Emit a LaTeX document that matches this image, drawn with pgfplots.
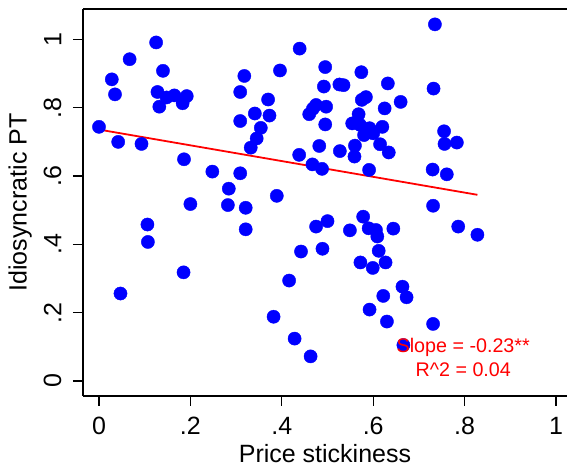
\documentclass[border=0pt]{standalone}
\usepackage{pgfplots}
\pgfplotsset{compat=1.18}
\usepackage{fontspec}
\setmainfont{Liberation Sans}
\definecolor{sblue}{RGB}{0,0,255}
\definecolor{sred}{RGB}{255,0,0}
\begin{document}
\begin{tikzpicture}
\begin{axis}[
  name=ax,
  scale only axis,
  width=484pt, height=387pt,
  xmin=-0.035, xmax=1.024,
  ymin=-0.044, ymax=1.089,
  axis x line=box, axis y line=left,
  axis line style={line width=1.6pt, -},
  xtick={0,0.2,0.4,0.6,0.8,1},
  xticklabels={0,.2,.4,.6,.8,1},
  ytick={0,0.2,0.4,0.6,0.8,1},
  yticklabels={0,.2,.4,.6,.8,1},
  xtick pos=bottom, ytick pos=left,
  tick align=outside,
  major tick length=10pt,
  every tick/.style={black, line width=1.2pt},
  tick label style={font=\fontsize{25}{30}\selectfont},
  xticklabel style={yshift=-8pt},
  yticklabel style={rotate=90, anchor=south},
  yticklabel shift=8pt,
  label style={font=\fontsize{25}{30}\selectfont},
  xlabel={Price stickiness},
  ylabel={Idiosyncratic PT},
  xlabel style={yshift=-2pt},
  ylabel style={yshift=5pt},
  clip=false,
]
\addplot[only marks, mark=*, mark size=6.6pt, color=sblue, mark options={draw=sblue, fill=sblue}] coordinates {
(0.000,0.744) (0.028,0.883) (0.035,0.839) (0.042,0.700) (0.047,0.256)
(0.067,0.942) (0.093,0.694) (0.106,0.458) (0.107,0.407) (0.125,0.991)
(0.128,0.846) (0.132,0.803) (0.140,0.908) (0.148,0.830) (0.165,0.836)
(0.183,0.813) (0.192,0.834) (0.186,0.649) (0.185,0.318) (0.200,0.518)
(0.248,0.613) (0.282,0.515) (0.284,0.563) (0.309,0.846) (0.309,0.761)
(0.309,0.608) (0.318,0.893) (0.321,0.507) (0.321,0.444) (0.332,0.683)
(0.341,0.783) (0.345,0.710) (0.354,0.741) (0.370,0.824) (0.373,0.777)
(0.382,0.188) (0.389,0.542) (0.396,0.909) (0.416,0.294) (0.428,0.124)
(0.438,0.662) (0.439,0.973) (0.442,0.379) (0.460,0.781) (0.463,0.072)
(0.467,0.634) (0.468,0.797) (0.475,0.808) (0.475,0.452) (0.482,0.688)
(0.488,0.621) (0.489,0.387) (0.492,0.862) (0.495,0.919) (0.495,0.751)
(0.497,0.803) (0.500,0.468) (0.526,0.868) (0.535,0.866) (0.527,0.673)
(0.549,0.441) (0.554,0.754) (0.559,0.657) (0.560,0.689) (0.568,0.781)
(0.571,0.750) (0.572,0.347) (0.574,0.904) (0.575,0.823) (0.584,0.831)
(0.578,0.481) (0.580,0.720) (0.590,0.447) (0.591,0.618) (0.592,0.740)
(0.592,0.209) (0.599,0.331) (0.600,0.725) (0.606,0.442) (0.609,0.423)
(0.612,0.381) (0.615,0.693) (0.620,0.744) (0.622,0.249) (0.625,0.798)
(0.627,0.347) (0.630,0.174) (0.632,0.871) (0.634,0.669) (0.644,0.446)
(0.660,0.817) (0.664,0.276) (0.666,0.105) (0.673,0.245) (0.730,0.619)
(0.731,0.513) (0.731,0.167) (0.732,0.856) (0.735,1.044) (0.755,0.731)
(0.756,0.694) (0.761,0.605) (0.783,0.698) (0.786,0.452) (0.828,0.428)
};
\addplot[sred, line width=1.8pt, no marks] coordinates {(0,0.736) (0.828,0.545)};
\coordinate (t1) at (axis cs:0.797,0.0996);
\coordinate (t2) at (axis cs:0.797,0.032);
\end{axis}
\node[sred, font=\fontsize{19.7}{23}\selectfont, inner sep=0pt] at (t1) {Slope = -0.23**};
\node[sred, font=\fontsize{19.7}{23}\selectfont, inner sep=0pt] at (t2) {R\textasciicircum 2 = 0.04};
\pgfresetboundingbox
\path[use as bounding box] ([xshift=-83pt,yshift=-69pt]ax.south west) rectangle ([yshift=9pt]ax.north east);
\end{tikzpicture}
\end{document}
